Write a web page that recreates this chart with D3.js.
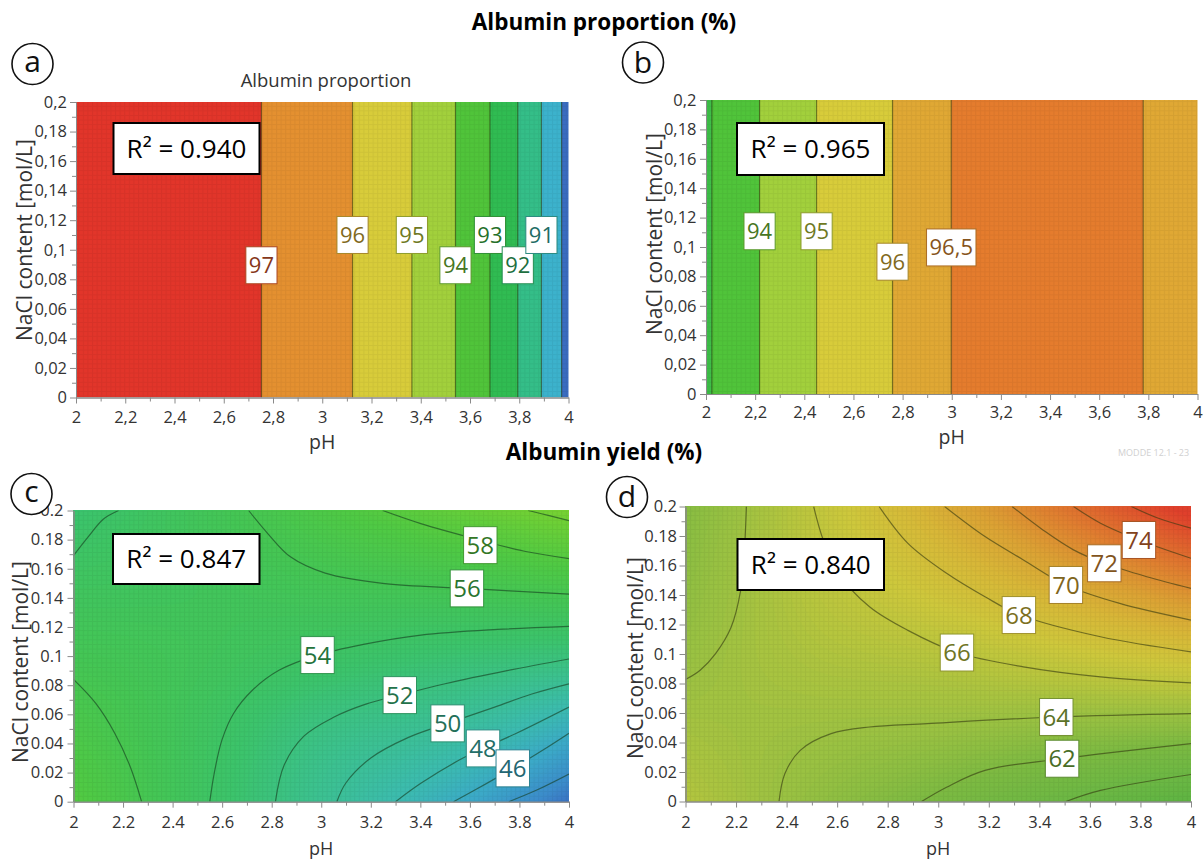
<!DOCTYPE html>
<html><head><meta charset="utf-8">
<script src="https://cdn.jsdelivr.net/npm/d3@7"></script>
<style>
body{margin:0;background:#fff}
svg{display:block}
text{font-family:"Open Sans","Noto Sans",sans-serif}
</style>
</head><body>
<svg id="chart" width="1204" height="859"></svg>
<script>
// ---------------- DATA ----------------
const phTicks = [2, 2.2, 2.4, 2.6, 2.8, 3, 3.2, 3.4, 3.6, 3.8, 4];
const phMinor = [2.1, 2.3, 2.5, 2.7, 2.9, 3.1, 3.3, 3.5, 3.7, 3.9];
const naclTicks = [0, 0.02, 0.04, 0.06, 0.08, 0.1, 0.12, 0.14, 0.16, 0.18, 0.2];
const naclMinor = [0.01, 0.03, 0.05, 0.07, 0.09, 0.11, 0.13, 0.15, 0.17, 0.19];

// (a) Albumin proportion, vertical contours (pH only)
const contourPhA = [2.753, 3.123, 3.364, 3.541, 3.681, 3.794, 3.890, 3.972];
const contourLevelsA = [97, 96, 95, 94, 93, 92, 91, 90];
const bandValuesA = [97.4, 96.5, 95.5, 94.5, 93.5, 92.5, 91.5, 90.5, 89.8];
const labelTextA = ["97", "96", "95", "94", "93", "92", "91"];
const labelLevelA = [97, 96, 95, 94, 93, 92, 91];
const labelPhA = [2.753, 3.123, 3.364, 3.541, 3.681, 3.794, 3.890];
const labelNaclA = [0.0895, 0.110, 0.110, 0.0895, 0.110, 0.0895, 0.110];

// (b) Albumin proportion
const contourPhB = [2.024, 2.218, 2.45, 2.759, 2.998, 3.779];
const contourLevelsB = [93, 94, 95, 96, 96.5, 96.5];
const bandValuesB = [92.9, 93.5, 94.5, 95.5, 96.25, 96.7, 96.25];
const labelTextB = ["94", "95", "96", "96,5"];
const labelLevelB = [94, 95, 96, 96.5];
const labelPhB = [2.218, 2.45, 2.759, 2.998];
const labelNaclB = [0.1107, 0.1107, 0.090, 0.0997];

// (c) Albumin yield – response grid (rows: NaCl, cols: pH)
const gridPhC = [2, 2.5, 3, 3.5, 4];
const gridNaclC = [0, 0.05, 0.1, 0.15, 0.2];
const gridValuesC = [
  [57.9, 54.4, 50.5, 46.3, 41.7],
  [56.8, 54.6, 51.7, 49.8, 46.3],
  [55.6, 55.0, 54.0, 53.0, 52.2],
  [54.5, 54.9, 55.5, 55.9, 56.6],
  [53.1, 55.1, 57.1, 58.9, 60.5]
];
const contourLevelsC = [60, 58, 56, 56, 54, 54, 52, 50, 48, 46, 44];
const contourPathsC = [
  [[3.835,0.2],[3.92,0.1965],[4,0.193]],
  [[3.248,0.2],[3.402,0.191],[3.642,0.1796],[3.82,0.172],[4,0.167]],
  [[2.707,0.2],[2.785,0.184],[2.877,0.168],[3.016,0.157],[3.248,0.150],[3.588,0.1465],[4,0.1426]],
  [[2,0.084],[2.09,0.0675],[2.167,0.0469],[2.229,0.024],[2.275,0]],
  [[2,0.169],[2.06,0.182],[2.12,0.194],[2.182,0.2]],
  [[2.55,0],[2.568,0.0195],[2.599,0.0423],[2.646,0.0606],[2.723,0.0767],[2.831,0.0904],[2.985,0.1007],[3.17,0.108],[3.402,0.1144],[3.711,0.1183],[4,0.1204]],
  [[2.815,0],[2.85,0.025],[2.93,0.045],[3.05,0.058],[3.18,0.067],[3.317,0.0732],[3.5,0.081],[3.75,0.09],[4,0.098]],
  [[3.063,0],[3.1,0.013],[3.2,0.03],[3.35,0.044],[3.51,0.0538],[3.7,0.065],[3.85,0.074],[4,0.081]],
  [[3.30,0],[3.402,0.0126],[3.557,0.0286],[3.653,0.0366],[3.788,0.047],[4,0.065]],
  [[3.534,0],[3.62,0.008],[3.773,0.0229],[3.9,0.036],[4,0.047]],
  [[3.757,0],[3.87,0.008],[4,0.019]]
];
const labelTextC = ["58", "56", "54", "52", "50", "48", "46"];
const labelLevelC = [58, 56, 54, 52, 50, 48, 46];
const labelPhC = [3.642, 3.588, 2.985, 3.317, 3.51, 3.653, 3.773];
const labelNaclC = [0.1762, 0.1465, 0.1007, 0.0732, 0.0538, 0.0366, 0.0229];

// (d) Albumin yield
const gridPhD = [2, 2.5, 3, 3.5, 4];
const gridNaclD = [0, 0.05, 0.1, 0.15, 0.2];
const gridValuesD = [
  [65.3, 63.5, 61.8, 60.0, 58.3],
  [64.5, 64.2, 63.9, 63.4, 63.1],
  [63.8, 65.0, 65.6, 66.7, 67.9],
  [63.2, 65.6, 67.8, 70.2, 72.7],
  [62.7, 66.0, 69.8, 73.7, 77.7]
];
const contourLevelsD = [64, 64, 62, 60, 66, 68, 70, 72, 74, 76];
const contourPathsD = [
  [[2,0.0827],[2.058,0.089],[2.119,0.1003],[2.18,0.118],[2.218,0.143],[2.233,0.1706],[2.241,0.2]],
  [[2.37,0],[2.393,0.0188],[2.454,0.0347],[2.576,0.046],[2.728,0.0505],[2.957,0.0528],[3.467,0.0573],[4,0.0596]],
  [[2.934,0],[3.033,0.0097],[3.185,0.0211],[3.49,0.029],[4,0.0392]],
  [[3.505,0],[3.642,0.0075],[4,0.0183]],
  [[2.507,0.2],[2.545,0.1773],[2.606,0.1547],[2.728,0.132],[2.88,0.116],[3.074,0.101],[3.337,0.0913],[3.642,0.0845],[4,0.0804]],
  [[2.766,0.2],[2.88,0.175],[3.033,0.1547],[3.185,0.1388],[3.319,0.1268],[3.642,0.1117],[4,0.1015]],
  [[3.025,0.2],[3.185,0.1796],[3.337,0.1638],[3.505,0.1468],[3.718,0.1343],[4,0.123]],
  [[3.292,0.2],[3.414,0.1841],[3.535,0.1706],[3.657,0.1615],[3.825,0.1524],[4,0.1445]],
  [[3.535,0.2],[3.642,0.1887],[3.794,0.1773],[4,0.1649]],
  [[3.764,0.2],[3.871,0.192],[4,0.1853]]
];
const labelTextD = ["74", "72", "70", "68", "66", "64", "62"];
const labelLevelD = [74, 72, 70, 68, 66, 64, 62];
const labelPhD = [3.794, 3.657, 3.505, 3.319, 3.074, 3.467, 3.49];
const labelNaclD = [0.1773, 0.1615, 0.1468, 0.1264, 0.101, 0.0573, 0.029];

const r2Text = ["R² = 0.940", "R² = 0.965", "R² = 0.847", "R² = 0.840"];

// ---------------- STYLE / LAYOUT ----------------
const W = 1204, H = 859;
const svg = d3.select("#chart");
svg.append("rect").attr("width", W).attr("height", H).attr("fill", "#fff");
const defs = svg.append("defs");
const pat = defs.append("pattern").attr("id", "mesh").attr("patternUnits", "userSpaceOnUse")
  .attr("width", 4.6).attr("height", 4.6);
pat.append("path").attr("d", "M0,0.5H4.6M0.5,0V4.6").attr("stroke", "rgba(0,0,0,0.05)").attr("stroke-width", 1);

const colorAB = d3.scaleLinear()
  .domain([89.8, 90.5, 91.5, 92.5, 93.5, 94.5, 95.5, 96.25, 96.6, 97.4])
  .range(["#3a6cc0", "#3cb2cc", "#34be88", "#30bc52", "#50c43a", "#a2d03c", "#d8cc3a", "#e0a834", "#e5862e", "#e2352a"])
  .clamp(true);
const colorC = d3.scaleLinear()
  .domain([41, 43, 45.5, 48, 51, 53.5, 55.5, 57.5, 60.5])
  .range(["#3a66c0", "#3c8ccb", "#3caac8", "#3cbcb0", "#3cc28c", "#3cc46a", "#44c656", "#50ca44", "#78d232"])
  .clamp(true);
const colorD = d3.scaleLinear()
  .domain([58, 60, 62, 64, 65.5, 67, 69, 71, 73, 75, 77])
  .range(["#5cb442", "#6cb844", "#7cba42", "#9cc242", "#b8c63e", "#cec83c", "#d8b838", "#dca034", "#e08030", "#e0602e", "#e0402c"])
  .clamp(true);

const fmtComma = d3.formatLocale({decimal: ",", thousands: ".", grouping: [3], currency: ["", ""]}).format("~g");
const fmtDot = d3.format("~g");

function makePanel(o) {
  const xs = d3.scaleLinear().domain([2, 4]).range([o.x0, o.x1]);
  const ys = d3.scaleLinear().domain([0, 0.2]).range([o.y1, o.y0]);
  defs.append("clipPath").attr("id", "clip" + o.id).append("rect")
    .attr("x", o.x0).attr("y", o.y0).attr("width", o.x1 - o.x0).attr("height", o.y1 - o.y0);
  const g = svg.append("g");
  const plot = g.append("g").attr("clip-path", `url(#clip${o.id})`);
  return Object.assign({xs, ys, g, plot}, o);
}

function drawAxes(P) {
  const fmt = P.comma ? fmtComma : fmtDot;
  const gx = P.g.append("g").attr("transform", `translate(0,${P.y1})`);
  gx.call(d3.axisBottom(P.xs).tickValues(phTicks).tickFormat(fmt).tickSize(6).tickSizeOuter(0).tickPadding(P.xPad));
  const gxm = P.g.append("g").attr("transform", `translate(0,${P.y1})`);
  gxm.call(d3.axisBottom(P.xs).tickValues(phMinor).tickFormat("").tickSize(4).tickSizeOuter(0));
  const gy = P.g.append("g").attr("transform", `translate(${P.x0},0)`);
  gy.call(d3.axisLeft(P.ys).tickValues(naclTicks).tickFormat(fmt).tickSize(6).tickSizeOuter(0).tickPadding(P.yPad));
  const gym = P.g.append("g").attr("transform", `translate(${P.x0},0)`);
  gym.call(d3.axisLeft(P.ys).tickValues(naclMinor).tickFormat("").tickSize(4).tickSizeOuter(0));
  [gx, gxm, gy, gym].forEach(a => {
    a.attr("font-family", '"Open Sans",sans-serif').attr("font-size", 16.5);
    a.selectAll(".domain").attr("stroke", "#8a8a8a");
    a.selectAll(".tick line").attr("stroke", "#8a8a8a");
    a.selectAll(".tick text").attr("fill", "#333");
  });
  P.g.append("text").text("pH").attr("x", (P.x0 + P.x1) / 2).attr("y", P.phY)
    .attr("text-anchor", "middle").attr("dy", "0.35em").attr("font-size", P.phFs).attr("fill", "#333");
  P.g.append("text").text("NaCl content [mol/L]")
    .attr("transform", `translate(${P.yLabX},${P.yLabY}) rotate(-90)`)
    .attr("text-anchor", "middle").attr("dy", "0.35em").attr("font-size", 21).attr("fill", "#333");
}

function drawLabels(P, texts, levels, phs, nacls, cscale, fs) {
  const lg = P.g.append("g");
  texts.forEach((t, i) => {
    const col = d3.color(cscale(levels[i])).darker(1.5);
    const grp = lg.append("g").attr("transform", `translate(${P.xs(phs[i])},${P.ys(nacls[i])})`);
    const rect = grp.append("rect");
    const tx = grp.append("text").text(t).attr("text-anchor", "middle").attr("dy", "0.36em")
      .attr("font-size", fs).attr("fill", col);
    const w = tx.node().getComputedTextLength() + 6;
    const h = 37;
    rect.attr("x", -w / 2).attr("y", -h / 2).attr("width", w).attr("height", h)
      .attr("fill", "#fff").attr("stroke", d3.color(cscale(levels[i])).darker(0.8)).attr("stroke-width", 1);
  });
}

function drawR2(x, y, w, h, txt) {
  svg.append("rect").attr("x", x).attr("y", y).attr("width", w).attr("height", h)
    .attr("fill", "#fff").attr("stroke", "#000").attr("stroke-width", 2);
  svg.append("text").text(txt).attr("x", x + w / 2).attr("y", y + h / 2).attr("dy", "0.36em")
    .attr("text-anchor", "middle").attr("font-size", 26).attr("fill", "#000");
}

function drawCircleLetter(cx, cy, letter, dy) {
  svg.append("circle").attr("cx", cx).attr("cy", cy).attr("r", 20.5)
    .attr("fill", "#fff").attr("stroke", "#111").attr("stroke-width", 1.6);
  svg.append("text").text(letter).attr("x", cx).attr("y", cy + dy).attr("text-anchor", "middle")
    .attr("font-size", 30).attr("fill", "#111");
}

// Vertical band panels (a, b)
function drawBands(P, bounds, values, lines) {
  const edges = [2, ...bounds, 4];
  P.plot.selectAll("rect.band").data(values).join("rect").attr("class", "band")
    .attr("x", (d, i) => P.xs(edges[i])).attr("width", (d, i) => P.xs(edges[i + 1]) - P.xs(edges[i]) + 0.5)
    .attr("y", P.ys(0.2)).attr("height", P.ys(0) - P.ys(0.2))
    .attr("fill", d => colorAB(d));
  P.plot.append("rect").attr("x", P.x0).attr("y", P.y0).attr("width", P.x1 - P.x0).attr("height", P.y1 - P.y0)
    .attr("fill", "url(#mesh)");
  P.plot.selectAll("line.cl").data(lines).join("line").attr("class", "cl")
    .attr("x1", d => P.xs(d)).attr("x2", d => P.xs(d))
    .attr("y1", P.ys(0.2)).attr("y2", P.ys(0))
    .attr("stroke", "rgba(40,50,10,0.55)").attr("stroke-width", 1.2);
}

// Smooth surface panels (c, d): bicubic resampling of the grid for shading
function cubic(p0, p1, p2, p3, t) {
  return p1 + 0.5 * t * (p2 - p0 + t * (2 * p0 - 5 * p1 + 4 * p2 - p3 + t * (3 * (p1 - p2) + p3 - p0)));
}
function sample1D(arr, x) {
  const n = arr.length;
  const e = [3 * arr[0] - 3 * arr[1] + arr[2], ...arr, 3 * arr[n - 1] - 3 * arr[n - 2] + arr[n - 3]];
  const i = Math.min(Math.floor(x), n - 2);
  return cubic(e[i], e[i + 1], e[i + 2], e[i + 3], x - i);
}
function resample(grid, nx, ny) {
  const rows = grid.length, cols = grid[0].length;
  const tmp = grid.map(r => d3.range(nx).map(i => sample1D(r, i * (cols - 1) / (nx - 1))));
  const out = new Array(nx * ny);
  for (let i = 0; i < nx; i++) {
    const col = tmp.map(r => r[i]);
    for (let j = 0; j < ny; j++) out[j * nx + i] = sample1D(col, j * (rows - 1) / (ny - 1));
  }
  return out;
}
function drawSurface(P, gridPh, gridNacl, grid, paths, cscale, lineColor) {
  const nx = 121, ny = 81;
  const vals = resample(grid, nx, ny);
  const phStep = (gridPh[gridPh.length - 1] - gridPh[0]) / (nx - 1);
  const nStep = (gridNacl[gridNacl.length - 1] - gridNacl[0]) / (ny - 1);
  const proj = d3.geoTransform({
    point: function (x, y) {
      this.stream.point(P.xs(gridPh[0] + (x - 0.5) * phStep), P.ys(gridNacl[0] + (y - 0.5) * nStep));
    }
  });
  const path = d3.geoPath(proj);
  const lo = Math.floor(d3.min(vals)) - 0.2, hi = d3.max(vals);
  const step = 0.15;
  const th = d3.range(lo, hi, step);
  const cont = d3.contours().size([nx, ny]).thresholds(th)(vals);
  P.plot.append("g").selectAll("path").data(cont).join("path")
    .attr("d", path).attr("fill", d => cscale(d.value + step / 2)).attr("stroke", "none");
  P.plot.append("rect").attr("x", P.x0).attr("y", P.y0).attr("width", P.x1 - P.x0).attr("height", P.y1 - P.y0)
    .attr("fill", "url(#mesh)");
  const line = d3.line().x(d => P.xs(d[0])).y(d => P.ys(d[1])).curve(d3.curveCatmullRom.alpha(0.5));
  P.plot.append("g").selectAll("path").data(paths).join("path")
    .attr("d", line).attr("fill", "none").attr("stroke", lineColor).attr("stroke-width", 1.2);
}

// ---------------- PANELS ----------------
const PA = makePanel({id: "a", x0: 76, x1: 568.5, y0: 102, y1: 397.5, comma: true, xPad: 8, yPad: 3, phY: 442, phFs: 19.5, yLabX: 25, yLabY: 240});
const PB = makePanel({id: "b", x0: 706, x1: 1197.5, y0: 100, y1: 394, comma: true, xPad: 6, yPad: 3.5, phY: 437, phFs: 19.5, yLabX: 655, yLabY: 234});
const PC = makePanel({id: "c", x0: 73.5, x1: 569, y0: 510.5, y1: 801.7, comma: false, xPad: 9, yPad: 4, phY: 849, phFs: 18, yLabX: 21, yLabY: 662});
const PD = makePanel({id: "d", x0: 685.5, x1: 1191, y0: 506.5, y1: 801.5, comma: false, xPad: 9, yPad: 2.5, phY: 849, phFs: 18, yLabX: 636, yLabY: 658});

drawBands(PA, contourPhA, bandValuesA, contourPhA);
drawBands(PB, contourPhB, bandValuesB, contourPhB);
drawSurface(PC, gridPhC, gridNaclC, gridValuesC, contourPathsC, colorC, "rgba(20,60,30,0.6)");
drawSurface(PD, gridPhD, gridNaclD, gridValuesD, contourPathsD, colorD, "rgba(50,55,15,0.6)");

[PA, PB, PC, PD].forEach(drawAxes);

drawLabels(PA, labelTextA, labelLevelA, labelPhA, labelNaclA, colorAB, 22);
drawLabels(PB, labelTextB, labelLevelB, labelPhB, labelNaclB, colorAB, 22);
drawLabels(PC, labelTextC, labelLevelC, labelPhC, labelNaclC, colorC, 24);
drawLabels(PD, labelTextD, labelLevelD, labelPhD, labelNaclD, colorD, 24);

drawR2(113.5, 123, 146, 51, r2Text[0]);
drawR2(737, 123, 147, 52, r2Text[1]);
drawR2(113, 534, 146.5, 50, r2Text[2]);
drawR2(737.5, 539, 146.5, 51, r2Text[3]);

drawCircleLetter(32.5, 64, "a", 8);
drawCircleLetter(643, 62.5, "b", 10);
drawCircleLetter(31.5, 494, "c", 8);
drawCircleLetter(627, 497, "d", 10);

// Titles
svg.append("text").text("Albumin proportion (%)").attr("x", 604).attr("y", 22).attr("dy", "0.35em")
  .attr("text-anchor", "middle").attr("font-size", 22.5).attr("font-weight", "bold").attr("fill", "#000");
svg.append("text").text("Albumin yield (%)").attr("x", 604).attr("y", 452).attr("dy", "0.35em")
  .attr("text-anchor", "middle").attr("font-size", 22.5).attr("font-weight", "bold").attr("fill", "#000");
svg.append("text").text("Albumin proportion").attr("x", 326).attr("y", 81).attr("dy", "0.35em")
  .attr("text-anchor", "middle").attr("font-size", 18.5).attr("fill", "#333");
svg.append("text").text("MODDE 12.1 - 23").attr("x", 1118).attr("y", 456)
  .attr("font-size", 9).attr("fill", "#d0d0d0");
</script>
</body></html>
